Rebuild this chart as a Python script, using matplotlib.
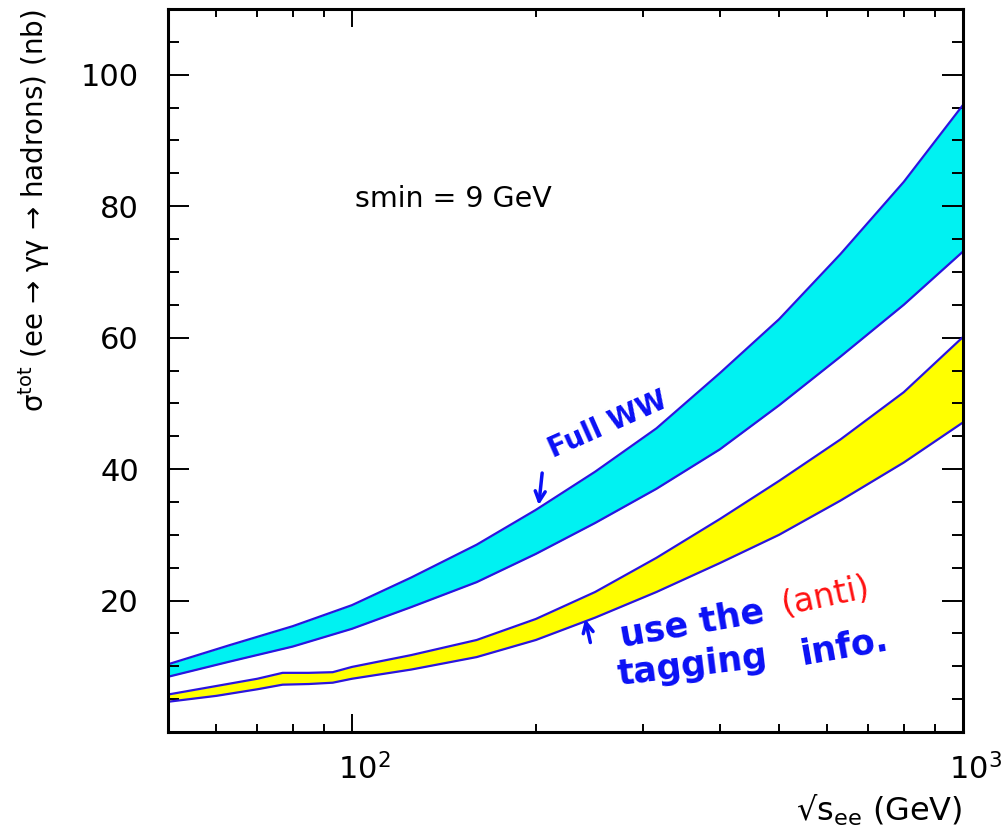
import numpy as np
import matplotlib.pyplot as plt
import matplotlib.transforms as mtransforms
from matplotlib.ticker import FixedLocator, LogLocator, MultipleLocator, NullFormatter

# sqrt(s_ee) in GeV and band edges of sigma_tot in nb
ww_energy = [50, 63, 80, 100, 125, 160, 200, 250, 315, 400, 500, 630, 800, 1000]
ww_upper = [10.3, 13.2, 16.1, 19.3, 23.5, 28.5, 33.8, 39.6, 46.2, 54.6, 62.8, 72.7, 83.7, 95.4]
ww_lower = [8.4, 10.7, 13.0, 15.7, 19.0, 22.8, 27.1, 31.8, 37.0, 43.0, 49.7, 57.1, 65.0, 73.1]

tag_energy = [50, 60, 70, 77, 85, 93, 100, 125, 160, 200, 250, 315, 400, 500, 630, 800, 1000]
tag_upper = [5.7, 7.0, 8.1, 9.0, 9.0, 9.1, 9.9, 11.7, 14.0, 17.2, 21.3, 26.5, 32.4, 38.2, 44.5, 51.7, 60.1]
tag_lower = [4.6, 5.5, 6.5, 7.2, 7.3, 7.5, 8.1, 9.5, 11.4, 14.0, 17.4, 21.3, 25.7, 30.0, 35.2, 41.0, 47.1]

y_major = [20, 40, 60, 80, 100]

edge_color = "#2a14e0"
pen_blue = "#0a10f5"
pen_red = "#ff1010"

plt.rcParams["font.family"] = ["DejaVu Sans"]
plt.rcParams["mathtext.fontset"] = "dejavusans"

fig = plt.figure(figsize=(10.08, 8.34), dpi=100)
ax = fig.add_axes([168 / 1008, 102 / 834, 795 / 1008, 723 / 834])

ax.fill_between(ww_energy, ww_lower, ww_upper, color="#00f2f2", lw=0)
ax.plot(ww_energy, ww_upper, color=edge_color, lw=1.6)
ax.plot(ww_energy, ww_lower, color=edge_color, lw=1.6)

ax.fill_between(tag_energy, tag_lower, tag_upper, color="#ffff00", lw=0)
ax.plot(tag_energy, tag_upper, color=edge_color, lw=1.6)
ax.plot(tag_energy, tag_lower, color=edge_color, lw=1.6)

ax.set_xscale("log")
ax.set_xlim(50, 1000)
ax.set_ylim(0, 110)

ax.xaxis.set_major_locator(LogLocator(base=10))
ax.xaxis.set_minor_locator(LogLocator(base=10, subs=range(2, 10)))
ax.xaxis.set_minor_formatter(NullFormatter())
ax.yaxis.set_major_locator(FixedLocator(y_major))
ax.yaxis.set_minor_locator(MultipleLocator(5))

for sp in ax.spines.values():
    sp.set_linewidth(2.2)

ax.tick_params(which="both", direction="in", top=True, right=True, width=1.4)
ax.tick_params(axis="x", which="major", length=13, pad=15, labelsize=22)
ax.tick_params(axis="x", which="minor", length=6)
ax.tick_params(axis="y", which="major", length=15, pad=21, labelsize=22)
ax.tick_params(axis="y", which="minor", length=8)

# keep the "10" of each power label centred on its tick
shift = mtransforms.ScaledTranslation(8.8 / 72, 0, fig.dpi_scale_trans)
for lbl in ax.get_xticklabels():
    lbl.set_transform(lbl.get_transform() + shift)

ax.set_ylabel("σ$^{\\rm tot}$ (ee → γγ → hadrons) (nb)", fontsize=20, loc="top")
ax.yaxis.set_label_coords(-0.146, 1.0)
ax.set_xlabel("√s$_{\\rm ee}$ (GeV)", fontsize=23, loc="right")
ax.xaxis.set_label_coords(0.999, -0.084)

ax.text(0.235, 0.737, "smin = 9 GeV", transform=ax.transAxes, fontsize=20.5,
        va="center", ha="left")

# pen notes
ax.text(0.553, 0.425, "Full WW", transform=ax.transAxes, fontsize=20,
        fontweight="bold", color=pen_blue, rotation=24, ha="center", va="center")
ax.annotate("", xy=(0.466, 0.310), xytext=(0.471, 0.362), xycoords="axes fraction",
            arrowprops=dict(arrowstyle="->", color=pen_blue, lw=2.5,
                            mutation_scale=18))

ax.text(0.659, 0.150, "use the", transform=ax.transAxes, fontsize=25,
        fontweight="bold", color=pen_blue, rotation=10, ha="center", va="center")
ax.text(0.827, 0.187, "(anti)", transform=ax.transAxes, fontsize=24,
        color=pen_red, rotation=12, ha="center", va="center")
ax.text(0.660, 0.092, "tagging", transform=ax.transAxes, fontsize=25,
        fontweight="bold", color=pen_blue, rotation=7, ha="center", va="center")
ax.text(0.850, 0.118, "info.", transform=ax.transAxes, fontsize=25,
        fontweight="bold", color=pen_blue, rotation=10, ha="center", va="center")
ax.annotate("", xy=(0.524, 0.160), xytext=(0.532, 0.120), xycoords="axes fraction",
            arrowprops=dict(arrowstyle="->", color=pen_blue, lw=2.5,
                            mutation_scale=18))

fig.savefig("out.png", dpi=100)
